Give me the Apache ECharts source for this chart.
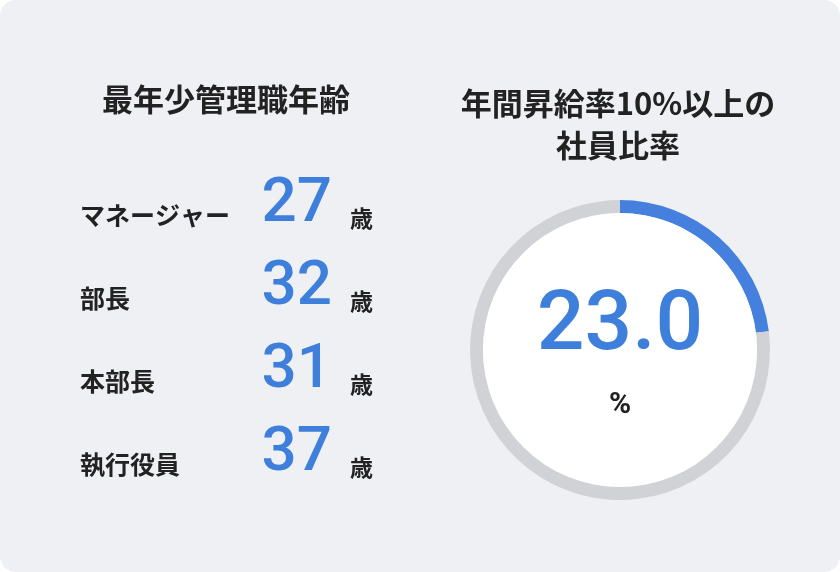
<!DOCTYPE html>
<html>
<head>
<meta charset="utf-8">
<script src="https://cdn.jsdelivr.net/npm/echarts@6/dist/echarts.min.js"></script>
<style>
  html, body { margin: 0; padding: 0; background: #ffffff; }
  #main { width: 840px; height: 572px; }
</style>
</head>
<body>
<div id="main"></div>
<script>
var roles = ['マネージャー', '部長', '本部長', '執行役員'];   // 役職
var ages = [27, 32, 31, 37];                                  // 最年少年齢
var rate = 23.0;                                               // 昇給率10%以上の社員比率

var font = '"Noto Sans CJK JP", "Noto Sans", sans-serif';
var blue = '#3f7fdc';
var rowY = [215, 298, 381, 464];

var myChart = echarts.init(document.getElementById('main'));

var graphics = [
    {
        type: 'rect', z: -10,
        shape: { x: 0, y: 0, width: 840, height: 572, r: 16 },
        style: { fill: '#eff0f4' }
    },
    {
        type: 'text',
        style: { text: '最年少管理職年齢', x: 226, y: 84, align: 'center', font: 'bold 31px ' + font, fill: '#222' }
    },
    {
        type: 'text', style: { text: '年間昇給率10%以上の\n社員比率', x: 618, y: 82, align: 'center',
            font: 'bold 31px ' + font, fill: '#222', lineHeight: 42 }
    }
];

for (var i = 0; i < roles.length; i++) {
    graphics.push({
        type: 'text',
        style: { text: roles[i], x: 80, y: rowY[i], verticalAlign: 'middle',
            font: 'bold 25px ' + font, fill: '#222' }
    });
    graphics.push({
        type: 'text',
        style: { text: String(ages[i]), x: 332, y: rowY[i] - 10, align: 'right', verticalAlign: 'middle',
            font: '500 62px Roboto, ' + font, fill: blue }
    });
    graphics.push({
        type: 'text',
        style: { text: '歳', x: 350, y: rowY[i] + 3, verticalAlign: 'middle',
            font: 'bold 23px ' + font, fill: '#222' }
    });
}

var option = {
    animation: false,
    graphic: graphics,
    series: [
        {
            type: 'pie',
            center: [620, 350],
            radius: [137, 150],
            startAngle: 90,
            clockwise: true,
            silent: true,
            label: { show: false },
            labelLine: { show: false },
            data: [
                { value: rate, itemStyle: { color: '#4680df' } },
                { value: 100 - rate, itemStyle: { color: '#d1d2d5' } }
            ]
        },
        {
            type: 'pie',
            center: [620, 350],
            radius: [0, 137],
            silent: true,
            label: {
                show: true, position: 'center',
                formatter: '{a|' + rate.toFixed(1) + '}\n{b|%}',
                rich: {
                    a: { fontSize: 84, fontFamily: 'Roboto', fontWeight: 500, color: blue, lineHeight: 90 },
                    b: { fontSize: 30, fontFamily: 'Roboto', fontWeight: 'bold', color: '#222', lineHeight: 44, padding: [20, 0, 0, 0] }
                }
            },
            labelLine: { show: false },
            data: [{ value: 1, itemStyle: { color: '#ffffff' } }]
        }
    ]
};

myChart.setOption(option);
</script>
</body>
</html>
